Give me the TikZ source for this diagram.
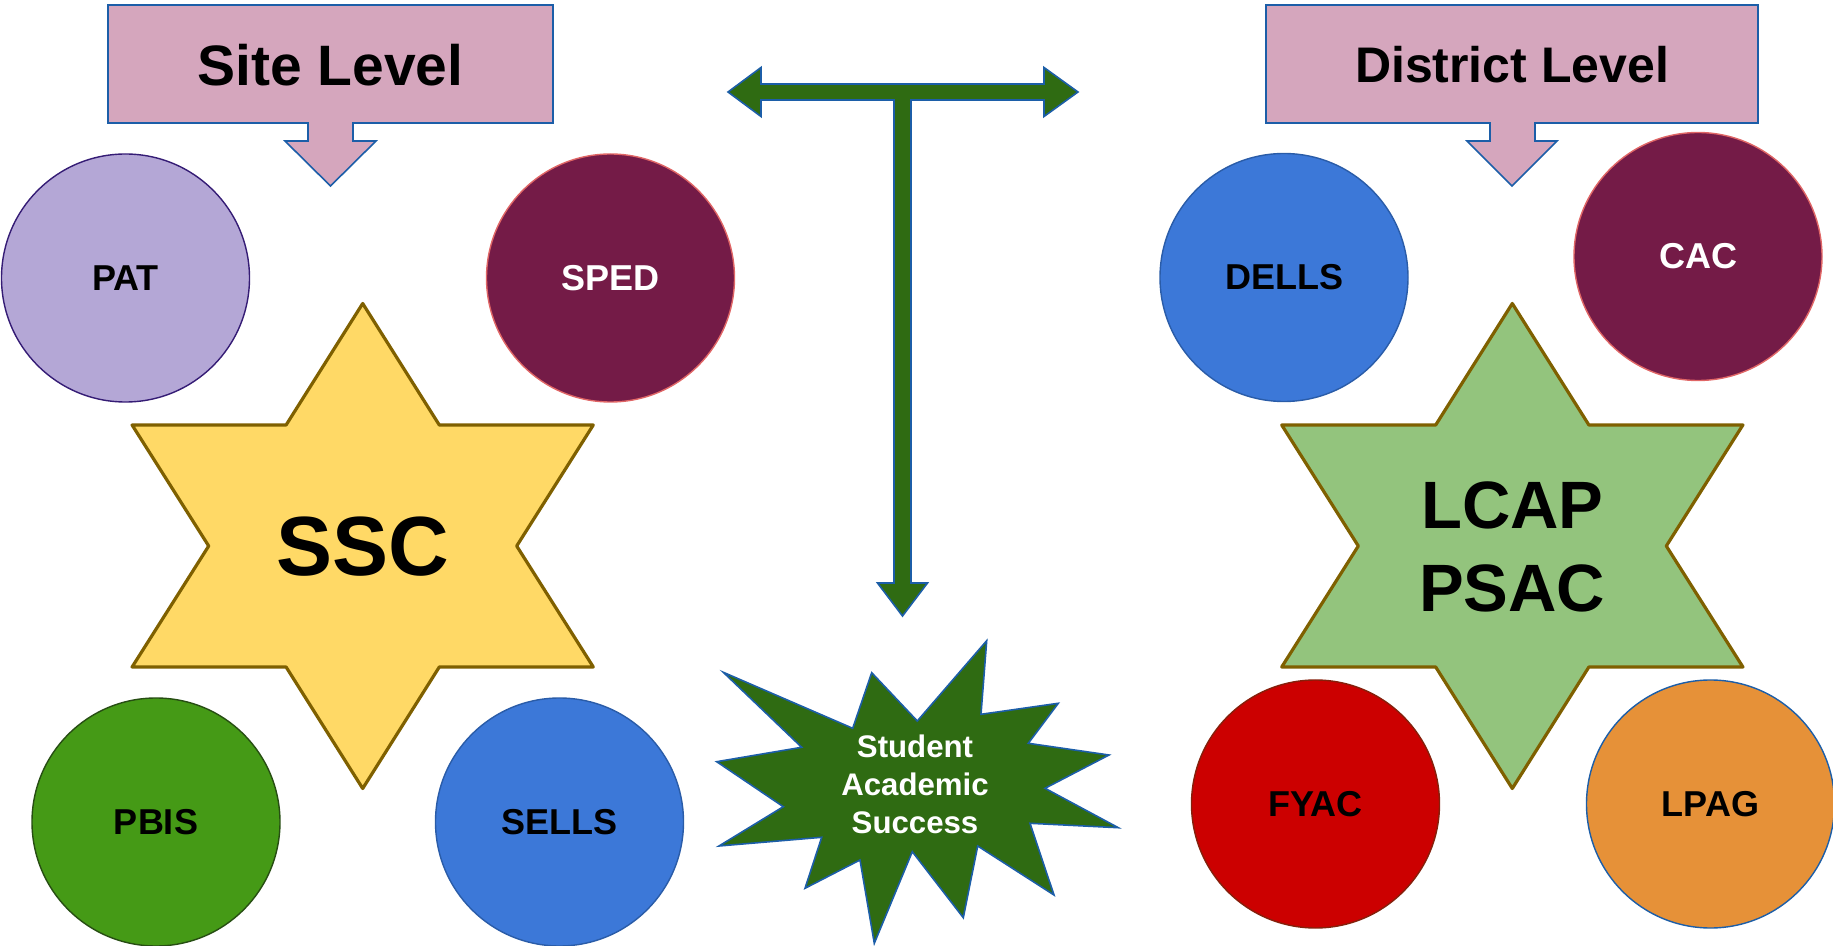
\documentclass[tikz,border=0pt]{standalone}
\usepackage{fontspec}
\setmainfont{Liberation Sans}
\definecolor{boxpink}{HTML}{D5A6BD}
\definecolor{boxblue}{HTML}{1C5EA8}
\definecolor{patfill}{HTML}{B4A7D6}
\definecolor{patedge}{HTML}{351C75}
\definecolor{maroon}{HTML}{741B47}
\definecolor{maroonedge}{HTML}{E06666}
\definecolor{pbisfill}{HTML}{459A16}
\definecolor{pbisedge}{HTML}{274E13}
\definecolor{bluefill}{HTML}{3C78D8}
\definecolor{blueedge}{HTML}{2A5CA8}
\definecolor{fyacfill}{HTML}{CC0000}
\definecolor{fyacedge}{HTML}{85200C}
\definecolor{lpagfill}{HTML}{E69138}
\definecolor{sscfill}{HTML}{FFD966}
\definecolor{lcapfill}{HTML}{93C47D}
\definecolor{staredge}{HTML}{7F6000}
\definecolor{dkgreen}{HTML}{2F6B12}
\tikzset{
  lvlbox/.style={fill=boxpink, draw=boxblue, line width=0.8pt, line join=miter},
  starshape/.style={draw=staredge, line width=1.6pt, line join=round},
  greenshape/.style={fill=dkgreen, draw=boxblue, line width=0.8pt, line join=miter},
  bub/.style={circle, minimum size=124pt, inner sep=0pt, line width=0.7pt,
    font=\bfseries\fontsize{18}{20}\selectfont},
  lbl/.style={inner sep=0pt, align=center}
}
\newcommand\hexstar[2]{%
  \filldraw[starshape, fill=#2, shift={#1}]
    (0,-242.5) -- (76.6,-121) -- (230.6,-121) -- (154,0) -- (230.6,121) -- (76.6,121)
    -- (0,242.5) -- (-76.6,121) -- (-230.6,121) -- (-154,0) -- (-230.6,-121) -- (-76.6,-121) -- cycle;}
\begin{document}
\begin{tikzpicture}[x=0.5pt, y=-0.5pt]
\useasboundingbox (0,0) rectangle (1833,946);

% level callouts
\filldraw[lvlbox] (108,5) -- (553,5) -- (553,123) -- (353,123) -- (353,141) -- (376,141)
  -- (330.5,186) -- (285,141) -- (308,141) -- (308,123) -- (108,123) -- cycle;
\node[lbl, font=\bfseries\fontsize{28.5}{30}\selectfont] (site) at (330.5,65) {Site Level};

\filldraw[lvlbox] (1266,5) -- (1758,5) -- (1758,123) -- (1535,123) -- (1535,141) -- (1557,141)
  -- (1512,186) -- (1467,141) -- (1490,141) -- (1490,123) -- (1266,123) -- cycle;
\node[lbl, font=\bfseries\fontsize{25}{27}\selectfont] (district) at (1512,65) {District Level};

% T arrow
\filldraw[greenshape] (728,92) -- (761,67.5) -- (761,84) -- (1044,84) -- (1044,67.5) -- (1078,92)
  -- (1044,116.5) -- (1044,100) -- (911,100) -- (911,583) -- (927.5,583) -- (902.5,616)
  -- (877.5,583) -- (894,583) -- (894,100) -- (761,100) -- (761,116.5) -- cycle;

% stars
\hexstar{(362.7,546)}{sscfill}
\node[lbl, font=\bfseries\fontsize{42}{44}\selectfont] (ssc) at (363,547) {SSC};
\hexstar{(1512.3,546)}{lcapfill}
\node[lbl, font=\bfseries\fontsize{33.5}{41.5}\selectfont] (lcap) at (1512.3,547) {LCAP\\PSAC};

% starburst
\filldraw[greenshape] (723.3,672.3) -- (852.7,728.3) -- (871.7,672.7) -- (917.3,721) -- (986.7,640.7)
  -- (981,714.3) -- (1058.3,703.3) -- (1028.3,743.3) -- (1109,755) -- (1045,788.3) -- (1118.3,827.7)
  -- (1030,823.3) -- (1054,895) -- (977.7,846) -- (963.3,917.7) -- (912.3,851.7) -- (874.3,943.3)
  -- (860,860) -- (805,888.3) -- (821.7,837.3) -- (719,846) -- (783.3,806.7) -- (716.7,761.7)
  -- (801.7,747.3) -- cycle;
\node[lbl, text=white, font=\bfseries\fontsize{15.6}{19}\selectfont] (sas) at (915,784)
  {Student\\Academic\\Success};

% circles
\node[bub, fill=patfill, draw=patedge] (pat) at (125.5,278) {PAT};
\node[bub, fill=maroon, draw=maroonedge, text=white] (sped) at (610.5,278) {SPED};
\node[bub, fill=pbisfill, draw=pbisedge] (pbis) at (156,822) {PBIS};
\node[bub, fill=bluefill, draw=blueedge] (sells) at (559.5,822) {SELLS};
\node[bub, fill=bluefill, draw=blueedge] (dells) at (1284,277.5) {DELLS};
\node[bub, fill=maroon, draw=maroonedge, text=white] (cac) at (1698,256.5) {CAC};
\node[bub, fill=fyacfill, draw=fyacedge] (fyac) at (1315.5,804) {FYAC};
\node[bub, fill=lpagfill, draw=boxblue] (lpag) at (1710.5,804) {LPAG};
\end{tikzpicture}
\end{document}
